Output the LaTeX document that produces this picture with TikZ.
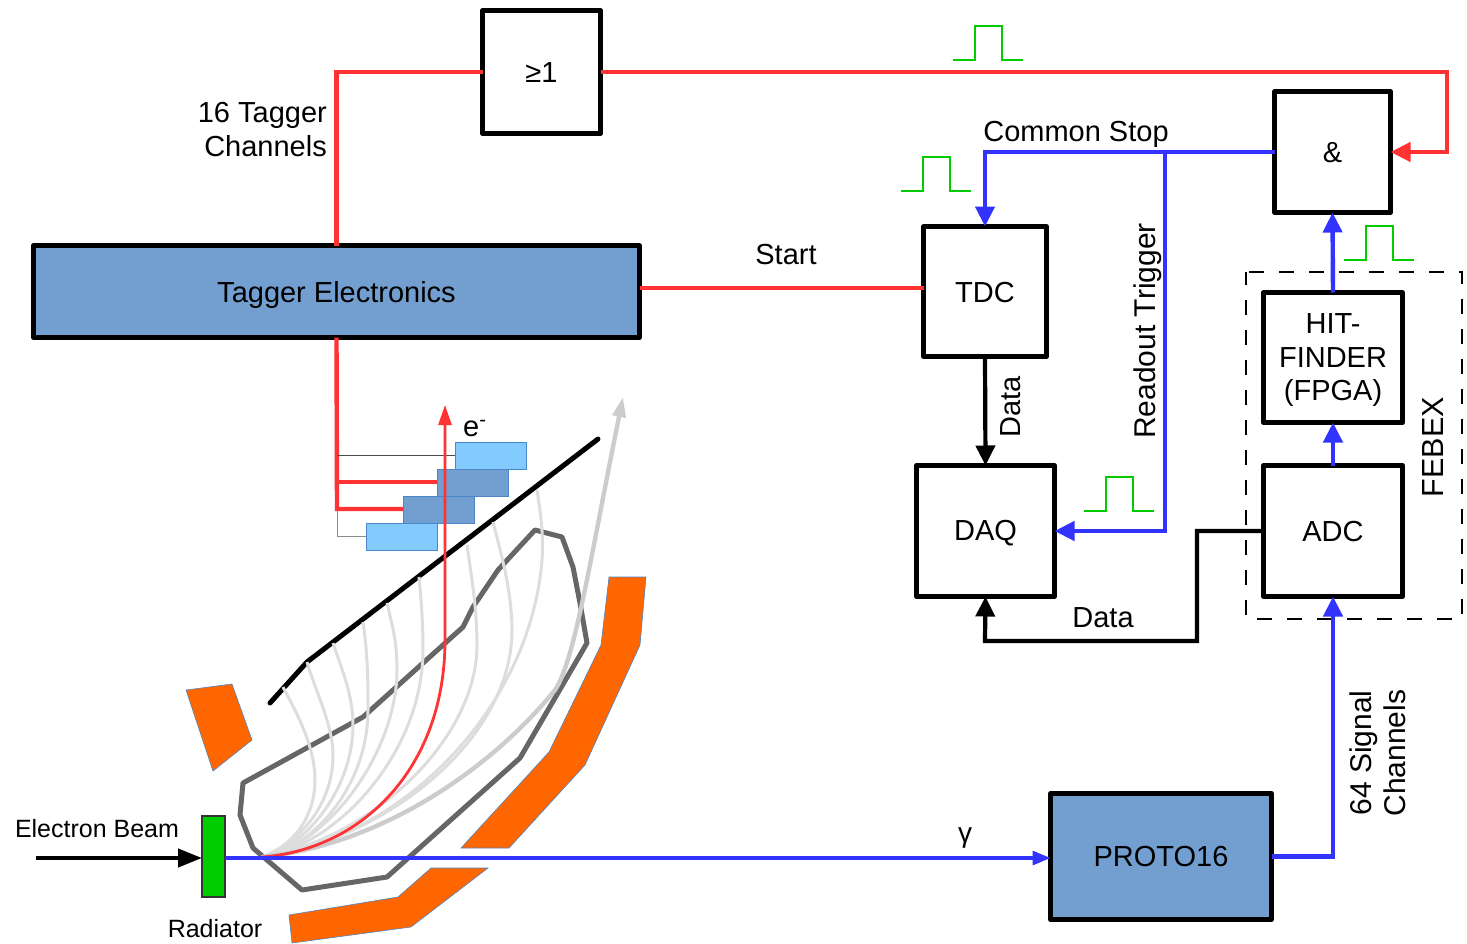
\documentclass[tikz,border=0pt]{standalone}
\usepackage{fontspec}
\setmainfont{Liberation Sans}
\usetikzlibrary{arrows.meta,calc}
\definecolor{tred}{HTML}{FF3333}
\definecolor{tblue}{HTML}{3333FF}
\definecolor{boxblue}{HTML}{729FCF}
\definecolor{lightb}{HTML}{83CAFF}
\definecolor{edgeb}{HTML}{4A86C8}
\definecolor{orng}{HTML}{FF6600}
\definecolor{grn}{HTML}{00CC00}
\definecolor{fang}{HTML}{DDDDDD}
\tikzset{
  blk/.style={draw=black,line width=4.8pt,line join=round,rectangle,inner sep=0pt,outer sep=0pt,font=\fontsize{29}{33.5}\selectfont,align=center},
  lbl/.style={inner sep=0pt,font=\fontsize{29}{34}\selectfont,align=center},
  slbl/.style={inner sep=0pt,font=\fontsize{25}{30}\selectfont,align=center},
  redw/.style={draw=tred,line width=4.4pt},
  bluew/.style={draw=tblue,line width=4.4pt},
  blackw/.style={draw=black,line width=4.2pt},
  tip/.style={-{Triangle[length=20pt,width=19pt]}},
  fan/.style={draw=fang,line width=3pt},
  orangep/.style={fill=orng,draw=edgeb,line width=0.6pt},
  scint/.style={draw=edgeb,line width=0.8pt,rectangle,inner sep=0pt},
  pulse/.style={draw=grn,line width=1.3pt},
}
\newcommand{\mkbox}[6]{\node[#1,minimum width=#4pt,minimum height=#5pt] (#2) at (#3) {#6};}
\newcommand{\dn}[2]{\raisebox{-#1pt}[\height][\depth]{#2}}
\begin{document}
\begin{tikzpicture}[x=1pt,y=-1pt]
\useasboundingbox (0,0) rectangle (1467,943);
% magnets
\fill[orangep] (186,690)--(232,684)--(252,740)--(213,771)--cycle;
\fill[orangep] (609,577)--(646,577)--(640,645)--(585,765)--(509,848)--(461,848)--(549,752)--(601,645)--cycle;
\fill[orangep] (431,868)--(488,868)--(411,927)--(292,943)--(289,915)--(398,897)--cycle;
% gray outline
\draw[draw=black!60,line width=5pt,line join=round] (243,783)--(240,815)--(253,848)--(302,890)--(387,877)--(520,758)--(587,643)--(580,603)--(573,567)--(562,537)--(535,530)--(498,570)--(473,607)--(463,627)--(363,717)--cycle;
% black line
\draw[black,line width=5pt,line cap=round,line join=round] (270,703)--(307,662)--(598,439);
% fan
\coordinate (src) at (262,857);
\draw[fan] (src) .. controls (295,845) and (315,815) .. (315,780) .. controls (315,745) and (295,710) .. (283,687);
\draw[fan] (src) .. controls (305,840) and (333,800) .. (333,755) .. controls (333,725) and (315,690) .. (307,662);
\draw[fan] (src) .. controls (310,845) and (353,785) .. (353,725) .. controls (353,695) and (342,670) .. (333,643);
\draw[fan] (src) .. controls (320,845) and (368,780) .. (368,710) .. controls (368,670) and (367,650) .. (363,622);
\draw[fan] (src) .. controls (330,845) and (397,750) .. (397,670) .. controls (397,640) and (392,625) .. (387,603);
\draw[fan] (src) .. controls (340,845) and (423,750) .. (423,650) .. controls (423,620) and (421,600) .. (419,577);
\draw[fan] (src) .. controls (370,840) and (477,740) .. (477,645) .. controls (477,610) and (472,580) .. (467,545);
\draw[fan] (src) .. controls (385,840) and (512,740) .. (512,630) .. controls (512,590) and (500,550) .. (493,522);
\draw[fan] (src) .. controls (400,840) and (530,710) .. (542,560) .. controls (544,535) and (540,510) .. (537,490);
% thick gray arrow
\draw[draw=black!20,line width=4.4pt,-{Triangle[length=20pt,width=13pt]}] (src) .. controls (380,845) and (490,770) .. (555,690) .. controls (575,660) and (590,560) .. (623,397);
% scintillators
\node[scint,fill=lightb,minimum width=71pt,minimum height=27pt] (s1) at (491,455.5) {};
\node[scint,fill=boxblue,minimum width=71pt,minimum height=27pt] (s2) at (473,482.5) {};
\node[scint,fill=boxblue,minimum width=71pt,minimum height=27pt] (s3) at (439,509.5) {};
\node[scint,fill=lightb,minimum width=71pt,minimum height=27pt] (s4) at (402,536.5) {};
% boxes
\mkbox{blk}{or}{541.5,72}{118}{123}{\dn{1}{≥1}}
\mkbox{blk,fill=boxblue}{tag}{336.5,291.5}{606}{92}{\dn{3}{Tagger Electronics}}
\mkbox{blk}{tdc}{985,291.5}{123}{130}{\dn{1}{TDC}}
\mkbox{blk}{daq}{985.5,531}{138}{131}{\dn{2}{DAQ}}
\mkbox{blk}{and}{1332.5,152}{116}{121}{\dn{1}{\&}}
\mkbox{blk}{hit}{1333,357.5}{139}{130}{\dn{3}{\begin{tabular}{@{}c@{}}HIT-\\FINDER\\(FPGA)\end{tabular}}}
\mkbox{blk}{adc}{1333,531}{139}{131}{\dn{1}{ADC}}
\mkbox{blk,fill=boxblue}{proto}{1161,856.5}{221}{126}{PROTO16}
\node[draw=black!80,line width=1.5pt,fill=grn,minimum width=23pt,minimum height=81pt,inner sep=0pt,outer sep=0pt] (rad) at (213.5,856.5) {};
\draw[black,line width=2.7pt,dash pattern=on 15pt off 15pt] (1249,272) -- (1462,272) -- (1462,619) -- (1246,619) -- (1246,272);
% red tagger lines
\draw[redw] (tag.north) |- (or.west);
\draw[redw,tip] (or.east) -| (1447,152) -- (and.east);
\draw[redw] (tag.east |- 0,288) -- (tdc.west |- 0,288);
\draw[redw,line join=miter] (tag.south) -- (337,509) -- (s3.west |- 0,509);
\draw[redw] (337,482) -- (s2.west |- 0,482);
\draw[black!70,line width=1pt] (337,455) -- (s1.west |- 0,455);
\draw[black!45,line width=1pt] (337,511) -- (337,536) -- (s4.west |- 0,536);
% red curve
\draw[draw=tred,line width=2.8pt,-{Triangle[length=20pt,width=13pt]}] (src) .. controls (360,850) and (445,770) .. (445,640) -- (445,405);
% blue
\coordinate (stopn) at (1165,152);
\draw[bluew,tip] (and.west) -| (tdc.north);
\draw[bluew,tip] (stopn) |- (daq.east);
\draw[bluew,tip] (adc.north) -- (hit.south);
\draw[bluew,tip] (hit.north) -- (and.south);
\draw[bluew,tip] (proto.east) -| (adc.south);
\draw[draw=tblue,line width=3.2pt,-{Triangle[length=18pt,width=14pt]}] (rad.east |- 0,858) -- (proto.west |- 0,858);
% black
\draw[blackw,tip] (tdc.south) -- (daq.north);
\draw[blackw,tip] (adc.west) -- (1197,531) |- (985,641) -- (daq.south);
\coordinate (beam) at (36,858);
\draw[blackw,-{Triangle[length=24pt,width=18pt]}] (beam) -- (rad.west |- beam);
% pulses
\foreach \x/\y in {953/60,901/191,1084/511,1344/260} {
  \draw[pulse] (\x,\y) -- ++(22,0) -- ++(0,-34) -- ++(27,0) -- ++(0,34) -- ++(21,0);
}
% labels
\node[lbl,anchor=east,align=right] (l16) at (327,130) {16 Tagger\\Channels};
\node[lbl] (lstart) at (786,255) {Start};
\node[lbl] (lstop) at (1076,134) {Common Stop};
\node[lbl,rotate=90,font=\fontsize{30}{34}\selectfont] (lrt) at (1148,331) {Readout Trigger};
\node[lbl,rotate=90] (ld1) at (1011,407) {Data};
\node[lbl] (ld2) at (1103,618) {Data};
\node[lbl,rotate=90,font=\fontsize{30.5}{34}\selectfont] (lfe) at (1433,447) {FEBEX};
\node[lbl,rotate=90,font=\fontsize{30}{34}\selectfont] (l64) at (1378,753) {64 Signal\\Channels};
\node[slbl,font=\fontsize{28}{30}\selectfont] (lg) at (965,838) {γ};
\node[slbl] (leb) at (97,829) {Electron Beam};
\node[slbl] (lr) at (215,929) {Radiator};
\node[lbl,anchor=base west] (le) at (463,436) {e\textsuperscript{-}};
\end{tikzpicture}
\end{document}
